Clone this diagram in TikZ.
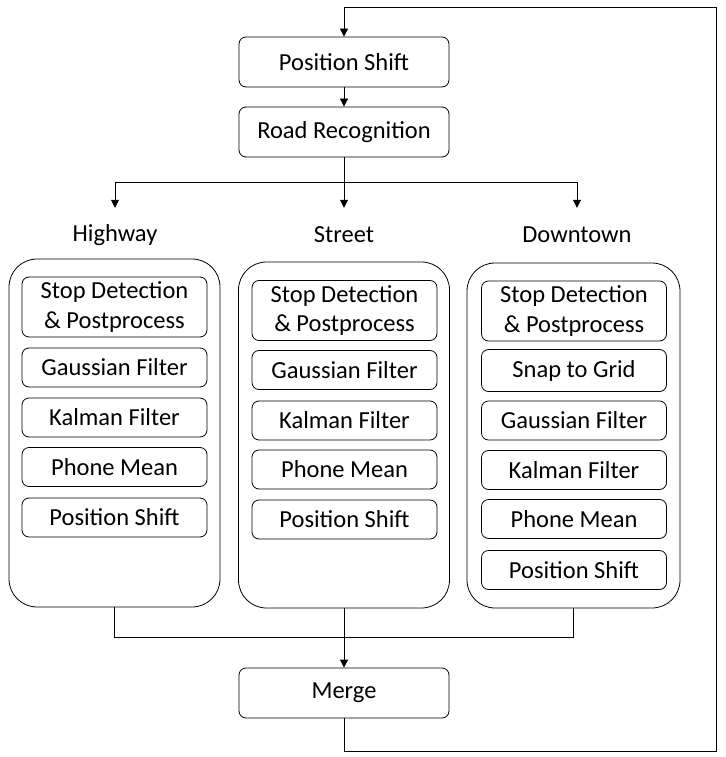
\documentclass[tikz,border=0pt]{standalone}
\usepackage{fontspec}
\setmainfont{Carlito}
\usepackage{tikz}
\usetikzlibrary{arrows.meta, positioning}

\tikzset{
  stage/.style={draw,thick,rounded corners=7pt,minimum width=210pt,minimum height=50pt,inner sep=2pt,font=\fontsize{24.5}{29.5}\selectfont,align=center},
  filt/.style={draw,thick,rounded corners=7pt,minimum width=185pt,minimum height=39pt,inner sep=2pt,font=\fontsize{24.5}{29.5}\selectfont,align=center},
  group/.style={draw,thick,rounded corners=28pt,minimum width=211pt,inner sep=0pt},
  road/.style={minimum height=54pt,inner sep=0pt,font=\fontsize{24.5}{29.5}\selectfont},
  link/.style={thick,-{Triangle[width=8pt,length=8pt]}}
}

\begin{document}
\begin{tikzpicture}[x=1pt,y=-1pt]
  \useasboundingbox (0,0) rectangle (725,757);
  % top stages
  \node[stage] (shift) at (344,62) {Position Shift};
  \node[stage] (recog) at (344,132) {Road Recognition};
  % road types
  \node[road] (hw) at (115,235) {Highway};
  \node[road] (st) at (344,235) {Street};
  \node[road] (dt) at (577,235) {Downtown};
  % outer boxes
  \node[group,minimum height=348pt] (hwgrp) at (114.5,433) {};
  \node[group,minimum height=346pt] (stgrp) at (344,435) {};
  \node[group,minimum height=345pt,minimum width=213pt] (dtgrp) at (573.5,435.5) {};
  % highway filters
  \node[filt,minimum height=60pt] (hwstop) at (114.5,307) {Stop Detection\\\& Postprocess};
  \node[filt] (hwgauss) at (114.5,367.5) {Gaussian Filter};
  \node[filt] (hwkal) at (114.5,417.5) {Kalman Filter};
  \node[filt] (hwmean) at (114.5,467) {Phone Mean};
  \node[filt] (hwpos) at (114.5,517.5) {Position Shift};
  % street filters
  \node[filt,minimum height=60pt] (ststop) at (344.5,310.5) {Stop Detection\\\& Postprocess};
  \node[filt] (stgauss) at (344.5,370) {Gaussian Filter};
  \node[filt] (stkal) at (344.5,420.5) {Kalman Filter};
  \node[filt] (stmean) at (344.5,469.5) {Phone Mean};
  \node[filt] (stpos) at (344.5,519.5) {Position Shift};
  % downtown filters
  \node[filt,minimum height=60pt] (dtstop) at (574,311) {Stop Detection\\\& Postprocess};
  \node[filt,minimum height=42pt] (dtsnap) at (574,370.5) {Snap to Grid};
  \node[filt] (dtgauss) at (574,420.5) {Gaussian Filter};
  \node[filt] (dtkal) at (574,470) {Kalman Filter};
  \node[filt] (dtmean) at (574,519) {Phone Mean};
  \node[filt] (dtpos) at (574,570) {Position Shift};
  % merge
  \node[stage] (merge) at (344,693) {Merge};
  % connectors
  \coordinate (fork) at (344,182);
  \coordinate (join) at (344,637);
  \coordinate (backlow) at (716,751);
  \coordinate (backtop) at (716,7);
  \draw[link] (shift) -- (recog);
  \draw[thick] (recog) -- (fork);
  \draw[link] (fork) -| (hw.north);
  \draw[link] (fork) -- (st.north);
  \draw[link] (fork) -| (dt.north);
  \draw[thick] (hwgrp.south) |- (join);
  \draw[thick] (dtgrp.south) |- (join);
  \draw[link] (stgrp.south) -- (merge.north);
  \draw[link] (merge.south) |- (backlow) -- (backtop) -| (shift.north);
\end{tikzpicture}
\end{document}
